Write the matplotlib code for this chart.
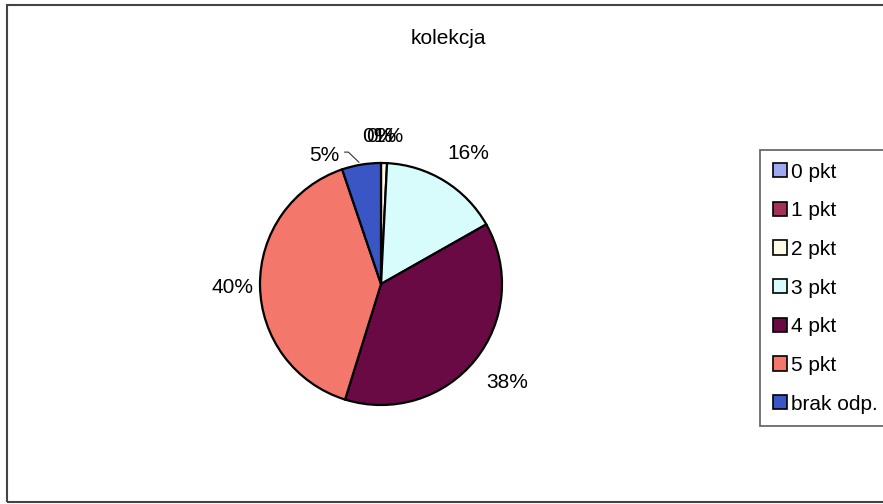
import numpy as np
import matplotlib
matplotlib.use("Agg")
import matplotlib.pyplot as plt
from matplotlib.patches import Rectangle

plt.rcParams['font.family'] = ['Liberation Sans', 'DejaVu Sans']

title = "kolekcja"
categories = ["0 pkt", "1 pkt", "2 pkt", "3 pkt", "4 pkt", "5 pkt", "brak odp."]
values = [0.0, 0.0, 0.8, 16.0, 38.0, 40.0, 5.2]
pct_labels = ["0%", "0%", "1%", "16%", "38%", "40%", "5%"]
colors = ["#9fa8f0", "#a3325a", "#fffbe6", "#d8fbfb", "#6a0a45", "#f4776c", "#3a56c4"]

W, H = 883, 504
fig = plt.figure(figsize=(W / 100, H / 100), dpi=100)

# outer frame
fig.patches.append(Rectangle((7 / W, 2 / H), 1.0, 1 - 7 / H, transform=fig.transFigure,
                             fill=False, edgecolor="#444444", linewidth=1.5))

cx, cy, r = 381, 284, 121
side = 3 * r
ax = fig.add_axes([(cx - side / 2) / W, (H - cy - side / 2) / H, side / W, side / H])

wedges, _ = ax.pie(values, colors=colors, startangle=90, counterclock=False,
                   wedgeprops=dict(edgecolor="black", linewidth=1.6), radius=1.0)
ax.set_xlim(-1.5, 1.5)
ax.set_ylim(-1.5, 1.5)
ax.set_aspect('equal')
ax.axis('off')

for i, (w, lab) in enumerate(zip(wedges, pct_labels)):
    ang = np.deg2rad((w.theta1 + w.theta2) / 2)
    if i <= 2:
        d = 1.22
        x, y = d * np.cos(ang), d * np.sin(ang)
        ax.text(x - 0.03 * (1 - i), y, lab, ha='center', va='center', fontsize=15)
    elif lab == "5%":
        x0, y0 = 1.0 * np.cos(ang), 1.0 * np.sin(ang)
        tx, ty = -0.47, 1.06
        ax.plot([-0.30, -0.27, x0 - 0.02], [1.09, 1.09, y0 + 0.02], color="#333333", lw=0.8)
        ax.text(tx, ty, lab, ha='center', va='center', fontsize=15)
    else:
        d = 1.28
        x, y = d * np.cos(ang) + 0.05, d * np.sin(ang) - 0.01
        ax.text(x, y, lab, ha='center', va='center', fontsize=15)

fig.text(448 / W, 1 - 39 / H, title, ha='center', va='center', fontsize=15)

leg = fig.legend(wedges, categories, loc='upper left',
                 bbox_to_anchor=(760 / W, 1 - 150 / H), fontsize=15,
                 frameon=True, fancybox=False, edgecolor="#333333",
                 handlelength=0.68, handleheight=0.68, handletextpad=0.2,
                 labelspacing=0.945, borderpad=0.6, borderaxespad=0)
leg.get_frame().set_linewidth(1.2)
for h in leg.legend_handles:
    h.set_linewidth(1.2)

fig.savefig("out.png", dpi=100)
